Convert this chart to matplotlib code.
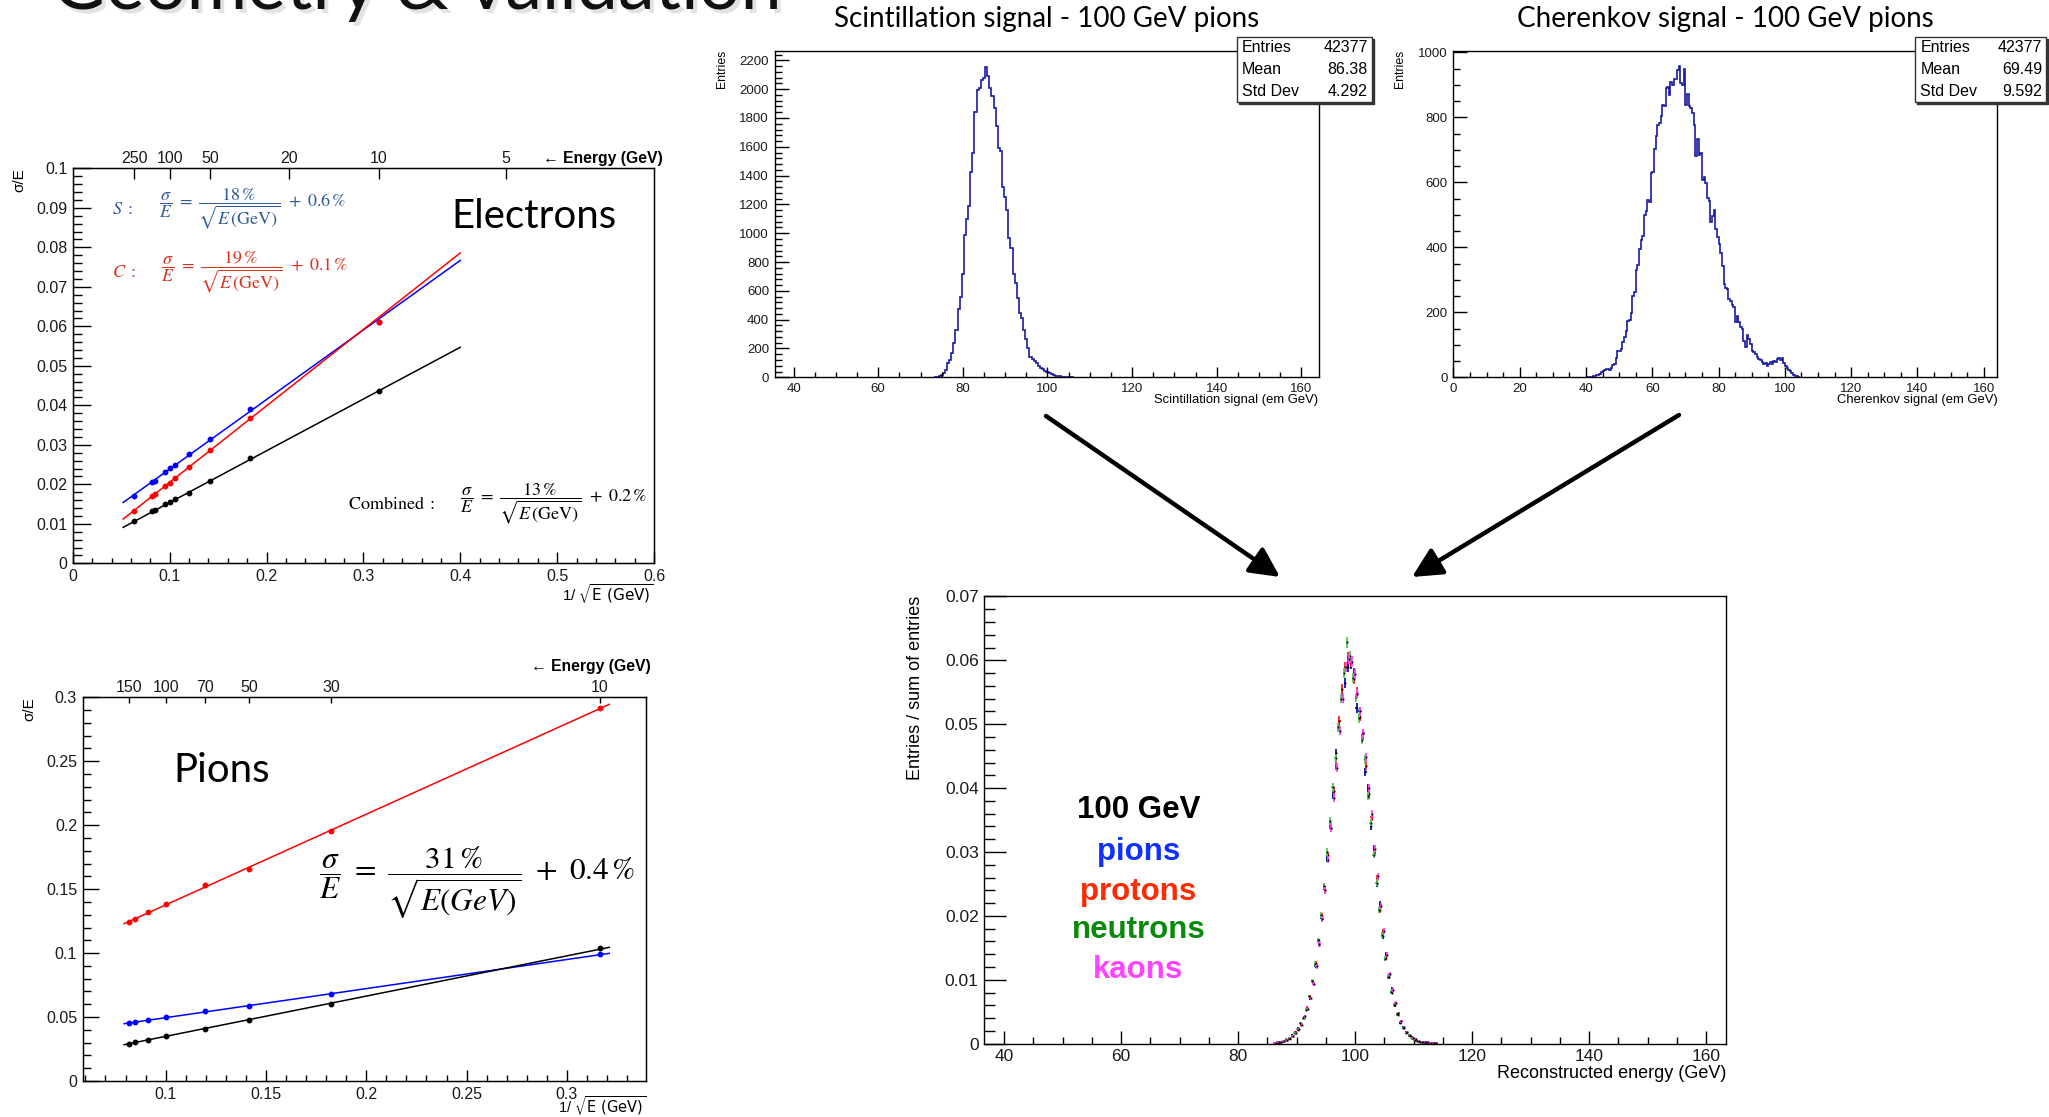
import numpy as np
import matplotlib
matplotlib.use("Agg")
import matplotlib.pyplot as plt
from matplotlib.ticker import MultipleLocator, FuncFormatter, NullLocator
from matplotlib.patches import Rectangle, FancyArrowPatch

W, H = 2049, 1117
plt.rcParams["font.family"] = ["Liberation Sans", "DejaVu Sans"]
plt.rcParams["mathtext.fontset"] = "stix"

# ---- electrons: sigma/E vs 1/sqrt(E) ----
e_energy = [250, 150, 140, 110, 100, 90, 70, 50, 30, 10]
e_S = [0.0171, 0.0207, 0.0208, 0.0230, 0.0242, 0.0248, 0.0277, 0.0315, 0.0390, 0.0611]
e_C = [0.0132, 0.0171, 0.0176, 0.0197, 0.0203, 0.0217, 0.0244, 0.0288, 0.0369, 0.0610]
e_comb = [0.0106, 0.0132, 0.0135, 0.0149, 0.0155, 0.0163, 0.0179, 0.0209, 0.0266, 0.0436]
e_fit_x = [0.052, 0.400]
e_fit_S = [0.0154, 0.0767]
e_fit_C = [0.0112, 0.0786]
e_fit_comb = [0.0091, 0.0547]
e_top_E = [250, 100, 50, 20, 10, 5]

# ---- pions ----
p_energy = [150, 140, 120, 100, 70, 50, 30, 10]
p_C = [0.1243, 0.1264, 0.1324, 0.1381, 0.1535, 0.1658, 0.1955, 0.2914]
p_S = [0.0454, 0.0459, 0.0480, 0.0500, 0.0547, 0.0586, 0.0683, 0.0990]
p_comb = [0.0292, 0.0302, 0.0323, 0.0349, 0.0409, 0.0480, 0.0605, 0.1037]
p_fit_x = [0.0793, 0.3211]
p_fit_C = [0.1230, 0.2945]
p_fit_S = [0.0448, 0.0998]
p_fit_comb = [0.0284, 0.1045]
p_top_E = [150, 100, 70, 50, 30, 10]

# ---- scintillation histogram (bin width 0.5) ----
scint_first_edge = 73.25
scint_counts = [2, 4, 8, 15, 28, 51, 97, 120, 166, 236, 328, 474, 560, 715, 988, 1099,
                1192, 1423, 1560, 1840, 1995, 2006, 2064, 2075, 2157, 2094, 2006, 1955,
                1872, 1747, 1594, 1571, 1323, 1254, 1161, 969, 900, 715, 652, 553, 444,
                410, 328, 266, 201, 143, 127, 113, 97, 81, 67, 58, 44, 35, 28, 21, 16,
                12, 9, 7, 5, 5, 3, 2, 2, 1]
scint_stats = ["42377", "86.38", "4.292"]

# ---- cherenkov histogram (bin width 0.5) ----
cher_first_edge = 40.0
cher_counts = [1, 1, 2, 2, 3, 4, 6, 8, 10, 15, 20, 21, 26, 24, 23, 28, 38, 40, 59, 81,
               81, 87, 110, 125, 141, 172, 176, 197, 249, 262, 331, 344, 395, 423, 436,
               500, 512, 546, 540, 628, 631, 703, 741, 777, 782, 803, 837, 834, 890, 893,
               870, 910, 898, 918, 918, 946, 957, 905, 900, 949, 837, 872, 834, 829, 813,
               777, 680, 734, 684, 689, 607, 617, 597, 551, 541, 479, 497, 514, 456, 431,
               410, 382, 341, 287, 276, 271, 241, 236, 223, 215, 169, 190, 169, 156, 148,
               113, 92, 131, 118, 103, 82, 79, 72, 62, 56, 54, 46, 41, 44, 36, 41, 46, 41,
               51, 48, 56, 58, 54, 58, 44, 36, 29, 23, 18, 12, 7, 5, 3, 1]
cher_stats = ["42377", "69.49", "9.592"]
stat_names = ["Entries", "Mean", "Std Dev"]

# ---- reconstructed energy, normalised (bin width 0.5) ----
reco_first_center = 86.25
reco_norm_entries = 94000
reco_pions = [0.0001, 0.0002, 0.0003, 0.0005, 0.0006, 0.0009, 0.0013, 0.0017, 0.0024, 0.0031,
              0.0042, 0.0055, 0.0071, 0.0097, 0.0122, 0.0160, 0.0196, 0.0245, 0.0290, 0.0345,
              0.0389, 0.0455, 0.0495, 0.0548, 0.0565, 0.0590, 0.0595, 0.0580, 0.0525, 0.0520,
              0.0478, 0.0425, 0.0400, 0.0340, 0.0305, 0.0250, 0.0218, 0.0168, 0.0140, 0.0104,
              0.0085, 0.0060, 0.0047, 0.0033, 0.0026, 0.0018, 0.0013, 0.0010, 0.0006, 0.0004,
              0.0003, 0.0002, 0.0002, 0.0001, 0.0001, 0.0001]
reco_protons = [0.0001, 0.0001, 0.0003, 0.0004, 0.0006, 0.0008, 0.0012, 0.0018, 0.0022, 0.0030,
                0.0041, 0.0056, 0.0073, 0.0095, 0.0126, 0.0155, 0.0200, 0.0240, 0.0295, 0.0338,
                0.0395, 0.0435, 0.0505, 0.0555, 0.0590, 0.0605, 0.0598, 0.0570, 0.0550, 0.0512,
                0.0485, 0.0435, 0.0390, 0.0355, 0.0298, 0.0258, 0.0210, 0.0175, 0.0134, 0.0108,
                0.0080, 0.0063, 0.0045, 0.0035, 0.0024, 0.0018, 0.0012, 0.0009, 0.0007, 0.0004,
                0.0003, 0.0002, 0.0001, 0.0001, 0.0001, 0.0000]
reco_neutrons = [0.0001, 0.0002, 0.0003, 0.0004, 0.0007, 0.0009, 0.0012, 0.0017, 0.0023, 0.0032,
                 0.0040, 0.0053, 0.0074, 0.0098, 0.0125, 0.0162, 0.0201, 0.0247, 0.0300, 0.0348,
                 0.0401, 0.0447, 0.0495, 0.0540, 0.0580, 0.0628, 0.0606, 0.0572, 0.0542, 0.0510,
                 0.0476, 0.0445, 0.0388, 0.0346, 0.0296, 0.0252, 0.0209, 0.0170, 0.0133, 0.0105,
                 0.0081, 0.0061, 0.0046, 0.0034, 0.0025, 0.0017, 0.0013, 0.0009, 0.0006, 0.0004,
                 0.0003, 0.0002, 0.0001, 0.0001, 0.0001, 0.0001]
reco_kaons = [0.0001, 0.0002, 0.0002, 0.0004, 0.0006, 0.0009, 0.0012, 0.0016, 0.0023, 0.0030,
              0.0043, 0.0055, 0.0071, 0.0094, 0.0121, 0.0156, 0.0195, 0.0240, 0.0288, 0.0338,
              0.0385, 0.0432, 0.0490, 0.0540, 0.0590, 0.0602, 0.0598, 0.0578, 0.0548, 0.0520,
              0.0486, 0.0448, 0.0400, 0.0360, 0.0305, 0.0262, 0.0215, 0.0176, 0.0139, 0.0109,
              0.0084, 0.0064, 0.0048, 0.0035, 0.0026, 0.0019, 0.0014, 0.0009, 0.0007, 0.0005,
              0.0003, 0.0002, 0.0002, 0.0001, 0.0001, 0.0001]
reco_labels = ["100 GeV", "pions", "protons", "neutrons", "kaons"]


def fx(px):
    return px / W


def fy(py):
    return 1 - py / H


def box(x0, x1, y0, y1):
    return [fx(x0), fy(y1), (x1 - x0) / W, (y1 - y0) / H]


gfmt = FuncFormatter(lambda v, p: f"{v:g}")


def root_style(ax, xmaj, xmin, ymaj, ymin, xlen, ylen, size):
    ax.xaxis.set_major_locator(MultipleLocator(xmaj))
    ax.xaxis.set_minor_locator(MultipleLocator(xmin))
    ax.yaxis.set_major_locator(MultipleLocator(ymaj))
    ax.yaxis.set_minor_locator(MultipleLocator(ymin))
    ax.xaxis.set_major_formatter(gfmt)
    ax.yaxis.set_major_formatter(gfmt)
    ax.tick_params(which="both", direction="in", top=False, right=False,
                   labelsize=size, width=1, labelcolor="#1a1a1a")
    ax.tick_params(axis="x", which="major", length=xlen, pad=4)
    ax.tick_params(axis="x", which="minor", length=xlen / 2)
    ax.tick_params(axis="y", which="major", length=ylen, pad=4)
    ax.tick_params(axis="y", which="minor", length=ylen / 2)
    for s in ax.spines.values():
        s.set_linewidth(1.0)


def top_energy(ax, energies, length, size):
    t = ax.twiny()
    t.set_xlim(ax.get_xlim())
    t.set_xticks(1 / np.sqrt(np.array(energies, dtype=float)))
    t.set_xticklabels([str(e) for e in energies])
    t.xaxis.set_minor_locator(NullLocator())
    t.tick_params(direction="in", length=length, width=1, labelsize=size, pad=2,
                  labelcolor="#1a1a1a")


def sqrt_label(x, y, size):
    fig.text(fx(x), fy(y), r"1/ $\sqrt{\mathrm{E\ (GeV)}}$", ha="right", va="center",
             fontsize=size, math_fontfamily="dejavusans")


fig = plt.figure(figsize=(W / 100, H / 100), dpi=100)

# slide title, cut off at the top
fig.text(fx(56), fy(13), "Geometry & validation", fontsize=53, family="Lato",
         color="#d0d0d0", va="baseline", alpha=0.6)
fig.text(fx(52), fy(9), "Geometry & validation", fontsize=53, family="Lato",
         color="#111111", va="baseline")

# ---------------- electrons ----------------
axE = fig.add_axes(box(72.8, 654, 168.4, 563.3))
axE.set_xlim(0, 0.6)
axE.set_ylim(0, 0.1)
ex = 1 / np.sqrt(np.array(e_energy, dtype=float))
for vals, fit, col in [(e_S, e_fit_S, "#0000ff"), (e_C, e_fit_C, "#ff0000"),
                       (e_comb, e_fit_comb, "black")]:
    axE.plot(e_fit_x, fit, color=col, lw=1.1)
    axE.plot(ex, vals, "o", color=col, ms=3.2)
root_style(axE, 0.1, 0.02, 0.01, 0.002, 7.7, 13, 11.5)
top_energy(axE, e_top_E, 7.7, 11.5)

axE.text(0.0668, 0.895, r"$S\ :$", transform=axE.transAxes, fontsize=13,
         color="#2f5b9a", va="center")
axE.text(0.1475, 0.895,
         r"$\dfrac{\sigma}{E}\ =\ \dfrac{18\,\%}{\sqrt{E\,(\mathrm{GeV})}}\ +\ 0.6\,\%$",
         transform=axE.transAxes, fontsize=13, color="#2f5b9a", va="center")
axE.text(0.0668, 0.736, r"$C\ :$", transform=axE.transAxes, fontsize=13,
         color="#d8321e", va="center")
axE.text(0.1513, 0.736,
         r"$\dfrac{\sigma}{E}\ =\ \dfrac{19\,\%}{\sqrt{E\,(\mathrm{GeV})}}\ +\ 0.1\,\%$",
         transform=axE.transAxes, fontsize=13, color="#d8321e", va="center")
axE.text(0.474, 0.149, r"$\mathrm{Combined\ :}$", transform=axE.transAxes,
         fontsize=13, color="black", va="center")
axE.text(0.666, 0.149,
         r"$\dfrac{\sigma}{E}\ =\ \dfrac{13\,\%}{\sqrt{E\,(\mathrm{GeV})}}\ +\ 0.2\,\%$",
         transform=axE.transAxes, fontsize=13, color="black", va="center")
axE.text(0.652, 0.879, "Electrons", transform=axE.transAxes, fontsize=29,
         family="Lato", va="center")

fig.text(fx(19), fy(168), "σ/E", rotation=90, ha="center", va="top", fontsize=11)
fig.text(fx(663), fy(158), "← Energy (GeV)", ha="right", va="center",
         fontsize=11.3, fontweight="bold")
sqrt_label(654, 594, 11)

# ---------------- pions ----------------
axP = fig.add_axes(box(82.6, 646, 697.3, 1081))
axP.set_xlim(0.0586, 0.3394)
axP.set_ylim(0, 0.3)
px_ = 1 / np.sqrt(np.array(p_energy, dtype=float))
for vals, fit, col in [(p_C, p_fit_C, "#ff0000"), (p_S, p_fit_S, "#0000ff"),
                       (p_comb, p_fit_comb, "black")]:
    axP.plot(p_fit_x, fit, color=col, lw=1.1)
    axP.plot(px_, vals, "o", color=col, ms=3.2)
root_style(axP, 0.05, 0.01, 0.05, 0.01, 8, 11.2, 11.5)
top_energy(axP, p_top_E, 4.5, 11.5)

axP.text(0.162, 0.81, "Pions", transform=axP.transAxes, fontsize=29,
         family="Lato", va="center")
axP.text(0.4196, 0.517,
         r"$\dfrac{\sigma}{E}\ =\ \dfrac{31\,\%}{\sqrt{E(GeV)}}\ +\ 0.4\,\%$",
         transform=axP.transAxes, fontsize=22.5, color="black", va="center")

fig.text(fx(29), fy(697), "σ/E", rotation=90, ha="center", va="top", fontsize=11)
fig.text(fx(651), fy(666), "← Energy (GeV)", ha="right", va="center",
         fontsize=11.3, fontweight="bold")
sqrt_label(646, 1106, 10.5)


# ---------------- histograms ----------------
def stats_box(x0, x1, y0, y1, values):
    fig.add_artist(Rectangle((fx(x0 + 2), fy(y1 + 2)), (x1 - x0) / W, (y1 - y0) / H,
                             transform=fig.transFigure, facecolor="#333333",
                             edgecolor="#333333", lw=1))
    fig.add_artist(Rectangle((fx(x0), fy(y1)), (x1 - x0) / W, (y1 - y0) / H,
                             transform=fig.transFigure, facecolor="white",
                             edgecolor="#333333", lw=1))
    for i, (name, val) in enumerate(zip(stat_names, values)):
        yy = y0 + 11 + i * 21.7
        fig.text(fx(x0 + 5), fy(yy), name, ha="left", va="center", fontsize=11.5)
        fig.text(fx(x1 - 4), fy(yy), val, ha="right", va="center", fontsize=11.5)


def signal_hist(bounds, first_edge, counts, xlim, ymax, ymaj, ymin, title, title_x,
                xlabel, ylabel_x, stats, stats_x):
    ax = fig.add_axes(box(*bounds))
    edges = first_edge + 0.5 * np.arange(len(counts) + 1)
    ax.stairs(counts, edges, color="#1a1a9e", lw=1.2)
    ax.set_xlim(*xlim)
    ax.set_ylim(0, ymax)
    root_style(ax, 20, 5, ymaj, ymin, 7.2, 10.4, 9.5)
    fig.text(fx(title_x), fy(19), title, ha="center", va="center", fontsize=20,
             family="Lato")
    fig.text(fx(bounds[1]), fy(400), xlabel, ha="right", va="center", fontsize=9.4)
    fig.text(fx(ylabel_x), fy(50), "Entries", rotation=90, ha="center", va="top",
             fontsize=8.8)
    stats_box(stats_x[0], stats_x[1], 36.7, 101.7, stats)
    return ax


signal_hist((774.6, 1318.6, 51, 377.3), scint_first_edge, scint_counts, (35.5, 164.1),
            2265, 200, 40, "Scintillation signal - 100 GeV pions", 1046.5,
            "Scintillation signal (em GeV)", 721.5, scint_stats, (1237, 1372))
signal_hist((1453.4, 1997.3, 51, 377.3), cher_first_edge, cher_counts, (0, 164.1),
            1004, 200, 50, "Cherenkov signal - 100 GeV pions", 1725.5,
            "Cherenkov signal (em GeV)", 1400.5, cher_stats, (1915.4, 2046))

# ---------------- arrows ----------------
for start, end in [((1046, 416), (1280, 577)), ((1679, 415), (1412, 577))]:
    fig.add_artist(FancyArrowPatch((fx(start[0]), fy(start[1])), (fx(end[0]), fy(end[1])),
                                   transform=fig.transFigure,
                                   arrowstyle="-|>,head_length=0.9,head_width=0.45",
                                   mutation_scale=20, lw=3.2, color="black",
                                   shrinkA=0, shrinkB=0))

# ---------------- reconstructed energy ----------------
axR = fig.add_axes(box(984.3, 1726, 596.4, 1043.7))
species = [(reco_pions, "#0a1a9a", 0.0), (reco_protons, "#ff1a1a", 0.05),
           (reco_neutrons, "#55c855", -0.1), (reco_kaons, "#ff44ff", 0.15)]
for vals, col, dx in species:
    v = np.array(vals)
    xc = reco_first_center + 0.5 * np.arange(len(v)) + dx
    err = np.sqrt(v / reco_norm_entries)
    axR.errorbar(xc, v, yerr=err, xerr=0.2, fmt="none", ecolor=col,
                 elinewidth=1.3, capsize=0)
    axR.plot(xc, v, ls="none", marker="s", ms=1.3, color="black", mew=0)
axR.set_xlim(36.6, 163.4)
axR.set_ylim(0, 0.07)
root_style(axR, 20, 5, 0.01, 0.002, 9.4, 15.8, 12.5)
fig.text(fx(916), fy(596), "Entries / sum of entries", rotation=90, ha="center",
         va="top", fontsize=13)
fig.text(fx(1726), fy(1074), "Reconstructed energy (GeV)", ha="right", va="center",
         fontsize=13)
legend_cols = ["black", "#1030ff", "#ff2a00", "#0a8a0a", "#ff44ff"]
legend_y = [0.5225, 0.4286, 0.34, 0.2542, 0.1654]
for lab, col, yy in zip(reco_labels, legend_cols, legend_y):
    axR.text(0.2079, yy, lab, transform=axR.transAxes, ha="center", va="center",
             fontsize=22.5, fontweight="bold", color=col)

fig.savefig("out.png", dpi=100)
